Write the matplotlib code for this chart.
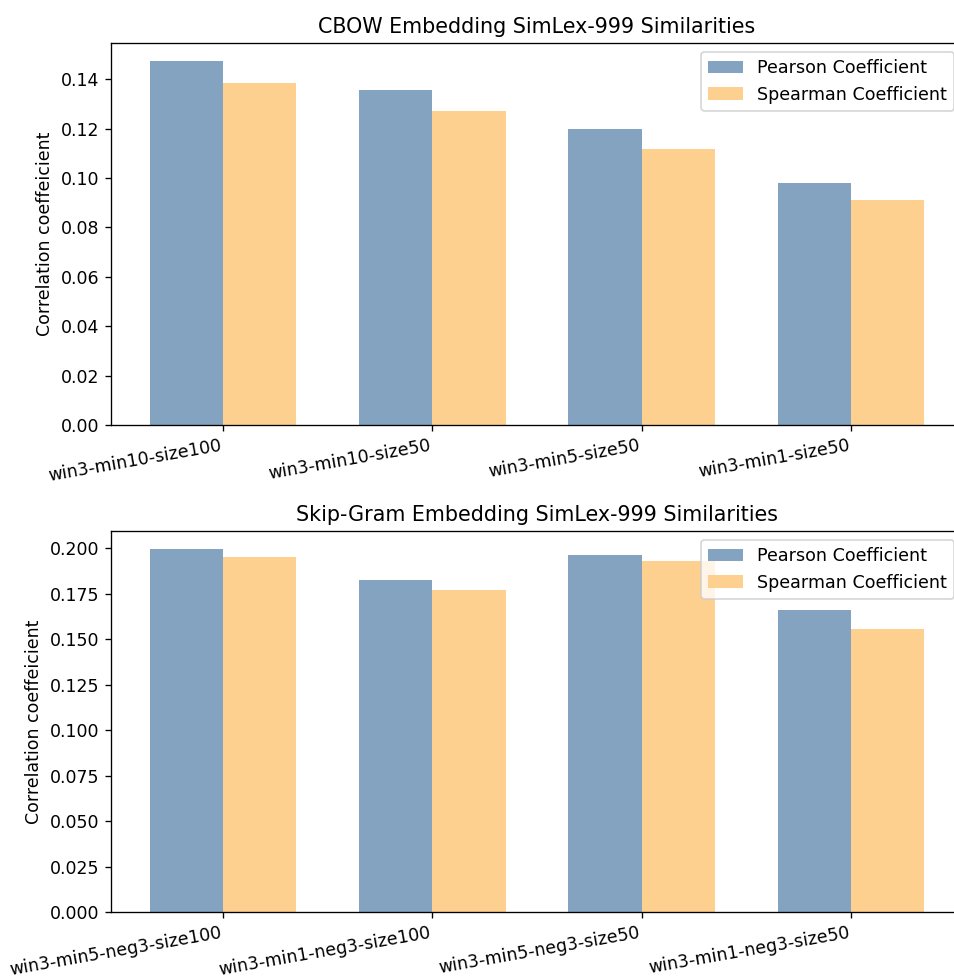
import numpy as np
import matplotlib
matplotlib.use("Agg")
import matplotlib.pyplot as plt

cbow_labels = ["win3-min10-size100", "win3-min10-size50", "win3-min5-size50", "win3-min1-size50"]
cbow_pearson = [0.1473, 0.1357, 0.1200, 0.0981]
cbow_spearman = [0.1383, 0.1270, 0.1119, 0.0910]

sg_labels = ["win3-min5-neg3-size100", "win3-min1-neg3-size100",
             "win3-min5-neg3-size50", "win3-min1-neg3-size50"]
sg_pearson = [0.1995, 0.1824, 0.1963, 0.1660]
sg_spearman = [0.1954, 0.1769, 0.1928, 0.1558]

BLUE = "#84a3c0"
ORANGE = "#fed08f"
bar_width = 0.35

plt.rcParams["font.size"] = 10.4


def draw(ax, labels, pearson, spearman, title):
    index = np.arange(len(labels))
    ax.bar(index, pearson, bar_width, color=BLUE, label="Pearson Coefficient")
    ax.bar(index + bar_width, spearman, bar_width, color=ORANGE, label="Spearman Coefficient")
    ax.set_xticks(index + bar_width / 2)
    ax.set_xticklabels(labels, rotation=10, ha="right")
    ax.set_ylabel("Correlation coeffeicient")
    ax.set_title(title, fontsize=12.4)
    ax.legend(loc="upper right", fontsize=10.5)


fig = plt.figure(figsize=(7.95, 8.15), dpi=120)
W, H = 954.0, 978.0
# axes placed in pixels, right side runs past the figure edge like the reference crop
ax1 = fig.add_axes([111 / W, 1 - 425 / H, (963 - 111) / W, (425 - 43) / H])
ax2 = fig.add_axes([111 / W, 1 - 912 / H, (963 - 111) / W, (912 - 531) / H])

draw(ax1, cbow_labels, cbow_pearson, cbow_spearman, "CBOW Embedding SimLex-999 Similarities")
draw(ax2, sg_labels, sg_pearson, sg_spearman, "Skip-Gram Embedding SimLex-999 Similarities")

fig.savefig("out.png", dpi=120)
